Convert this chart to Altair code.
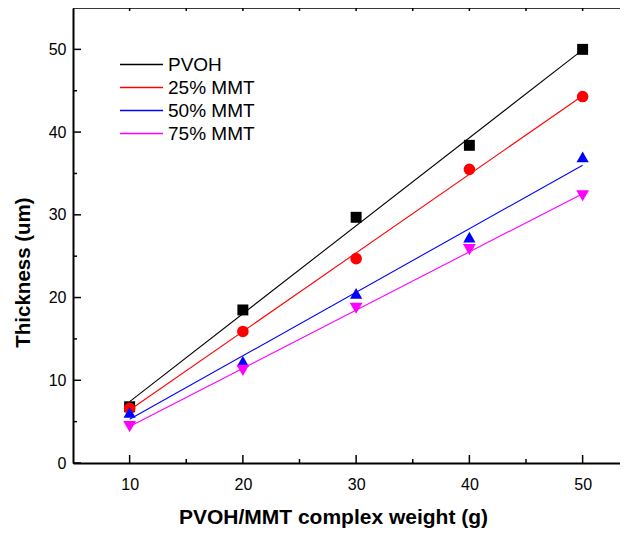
import altair as alt
import pandas as pd

# ---- data ----
x_vals = [10, 20, 30, 40, 50]
series = ["PVOH", "25% MMT", "50% MMT", "75% MMT"]
pvoh = [6.8, 18.5, 29.7, 38.4, 50.0]
mmt25 = [6.6, 15.9, 24.7, 35.5, 44.3]
mmt50 = [6.1, 12.3, 20.5, 27.3, 37.0]
mmt75 = [4.4, 11.2, 18.7, 25.8, 32.3]

colors = ["#000000", "#FF0000", "#0000FF", "#FF00FF"]
shapes = ["square", "circle", "triangle-up", "triangle-down"]
sizes = [120, 165, 210, 210]

x_major = [10, 20, 30, 40, 50]
x_minor = [15, 25, 35, 45]
x_top = [10, 15, 20, 25, 30, 35, 40, 45, 50]
y_major = [0, 10, 20, 30, 40, 50]
y_minor = [5, 15, 25, 35, 45]

rows = []
for name, vals in zip(series, [pvoh, mmt25, mmt50, mmt75]):
    for xv, yv in zip(x_vals, vals):
        rows.append({"x": xv, "y": yv, "series": name})
df = pd.DataFrame(rows)

FONT = "Liberation Sans"
W, H = 547, 455

xscale = alt.Scale(domain=[5, 53.3], nice=False, zero=False)
yscale = alt.Scale(domain=[0, 55], nice=False, zero=False)

xaxis = alt.Axis(
    title="PVOH/MMT complex weight (g)", values=x_major, grid=False, ticks=False,
    domain=True, domainColor="black", domainWidth=2,
    labelFont=FONT, labelFontSize=16, labelColor="black",
    labelPadding=13, titleFont=FONT, titleFontSize=21, titleFontWeight="bold",
    titleColor="black", titleX=260, titleY=60, titleAlign="center",
    titleBaseline="alphabetic", labelFlush=False,
)
yaxis = alt.Axis(
    title="Thickness (um)", values=y_major, grid=False, ticks=False,
    domain=True, domainColor="black", domainWidth=2,
    labelFont=FONT, labelFontSize=16, labelColor="black",
    labelPadding=7, titleFont=FONT, titleFontSize=20.5, titleFontWeight="bold",
    titleColor="black", titleX=-50, titleY=264, titleAngle=270,
    titleAlign="center", titleBaseline="middle", labelFlush=False,
)

base = alt.Chart(df)

points = base.mark_point(filled=True, opacity=1).encode(
    x=alt.X("x:Q", scale=xscale, axis=xaxis),
    y=alt.Y("y:Q", scale=yscale, axis=yaxis),
    color=alt.Color("series:N", scale=alt.Scale(domain=series, range=colors), legend=None),
    shape=alt.Shape("series:N", scale=alt.Scale(domain=series, range=shapes), legend=None),
    size=alt.Size("series:N", scale=alt.Scale(domain=series, range=sizes), legend=None),
)

lines = base.transform_regression(
    "x", "y", groupby=["series"], extent=[10, 50]
).mark_line(strokeWidth=1.1).encode(
    x=alt.X("x:Q", scale=xscale),
    y=alt.Y("y:Q", scale=yscale),
    color=alt.Color(
        "series:N", scale=alt.Scale(domain=series, range=colors),
        legend=alt.Legend(
            title=None, orient="none", legendX=59, legendY=47,
            symbolType="M-4,0H4", symbolSize=116, symbolStrokeWidth=1.5,
            labelFont=FONT, labelFontSize=19, labelColor="black",
            labelOffset=17, rowPadding=3, padding=0,
        ),
    ),
)

def tick_layer(vals, channel, length, start=None):
    d = pd.DataFrame({channel: vals})
    ch = alt.Chart(d).mark_rule(color="black", strokeWidth=1.5)
    if channel == "x":
        if start == "top":
            return ch.encode(x=alt.X("x:Q", scale=xscale), y=alt.value(0), y2=alt.value(length))
        return ch.encode(x=alt.X("x:Q", scale=xscale), y=alt.value(H), y2=alt.value(H - length))
    return ch.encode(y=alt.Y("y:Q", scale=yscale), x=alt.value(0), x2=alt.value(length))

ticks = [
    tick_layer(x_major, "x", 8),
    tick_layer(x_minor, "x", 4),
    tick_layer(x_top, "x", 3, start="top"),
    tick_layer(y_major, "y", 8),
    tick_layer(y_minor, "y", 4),
]

top_line = alt.Chart(pd.DataFrame({"k": [0]})).mark_rule(
    color="black", strokeWidth=1.5
).encode(x=alt.value(0), x2=alt.value(W), y=alt.value(0))

chart = alt.layer(lines, points, *ticks, top_line).resolve_scale(
    color="independent"
).properties(
    width=W, height=H,
    autosize=alt.AutoSizeParams(type="none"),
    padding={"left": 65, "top": 0, "right": 0, "bottom": 70},
).configure_view(stroke=None).configure(background="white")

chart.save("out.html", embed_options={"renderer": "svg", "actions": False})
